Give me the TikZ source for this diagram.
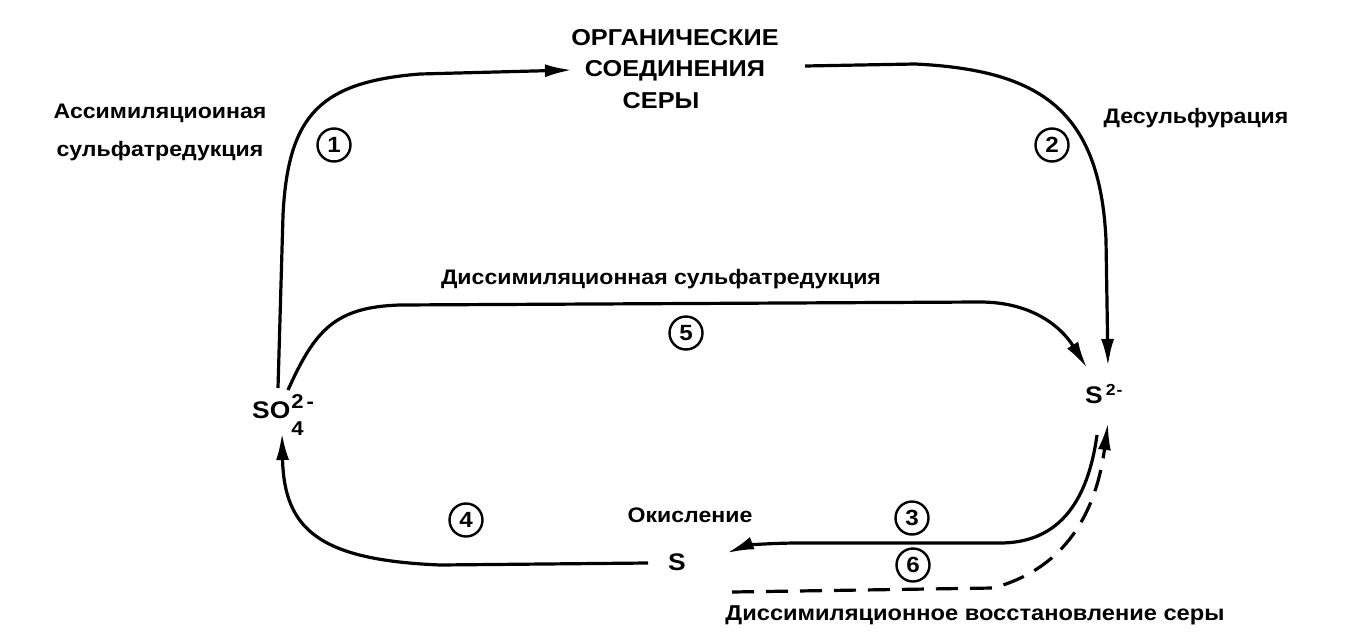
\documentclass[tikz,border=0pt]{standalone}
\usepackage{fontspec}
\setmainfont{Liberation Sans}[FakeStretch=1.1]
\usetikzlibrary{arrows.meta,calc}
\begin{document}
\begin{tikzpicture}[x={(1pt,0pt)},y={(0pt,-1pt)},
  lbl/.style={font=\fontsize{21}{24}\selectfont\bfseries, inner sep=0pt},
  chem/.style={font=\fontsize{24}{26}\selectfont\bfseries, inner sep=0pt},
  num/.style={circle, draw, line width=2.4pt, minimum size=33pt, inner sep=0pt, font=\fontsize{22}{22}\selectfont\bfseries},
  flow/.style={line width=3.2pt, -{Latex[length=27pt,width=13pt]}},
  dflow/.style={flow, dash pattern=on 22pt off 12pt}]
\fill[white] (0,0) rectangle (1360,632);
\useasboundingbox (0,0) rectangle (1360,632);

% chemical species
\node[chem, anchor=base west] (so4) at (252,418) {SO\kern1pt\rlap{\raisebox{10pt}{\fontsize{20}{20}\selectfont 2\kern3pt-}}\raisebox{-17pt}{\fontsize{20}{20}\selectfont 4}};
\node[chem, anchor=base west] (s2) at (1085,403) {S\kern3pt\raisebox{8pt}{\fontsize{16}{16}\selectfont 2\kern1pt-}};
\node[chem, anchor=base west] (s) at (668,570) {S};
\node[lbl, align=center, font=\fontsize{23}{31.5}\selectfont\bfseries] (org) at (675,69) {ОРГАНИЧЕСКИЕ\\СОЕДИНЕНИЯ\\СЕРЫ\hspace*{28pt}};

% labels
\node[lbl, align=center, font=\fontsize{21}{38}\selectfont\bfseries] (assim) at (160,132) {Ассимиляциоиная\\сульфатредукция};
\node[lbl] (desulf) at (1196,118) {Десульфурация};
\node[lbl] (dsr) at (661,279) {Диссимиляционная сульфатредукция};
\node[lbl] (oxid) at (690,515) {Окисление};
\node[lbl, font=\fontsize{21.5}{24}\selectfont\bfseries] (dsrs) at (975,615) {Диссимиляционное восстановление серы};

% numbers
\node[num] (n1) at (334,145) {1};
\node[num] (n2) at (1052,145) {2};
\node[num] (n5) at (686,333) {5};
\node[num] (n3) at (912,518) {3};
\node[num] (n4) at (466,520) {4};
\node[num] (n6) at (913,565) {6};

% connectors
\draw[flow] ($(so4.base west)+(26,-30)$) -- (283,215) .. controls (288,115) and (320,82) .. (420,74) -- ($(org.center)+(-103,1)$);
\draw[flow] ($(org.center)+(130,-3)$) -- (915,64) .. controls (1040,70) and (1100,110) .. (1106,240) -- ($(s2.base west)+(23,-37)$);
\draw[flow] ($(so4.base west)+(36,-28)$) .. controls (315,330) and (335,307) .. (400,305) -- (980,302) .. controls (1030,302) and (1060,325) .. ($(s2.base west)+(2,-35)$);
\draw[flow] ($(s.base west)+(-20,-7)$) -- (440,565) .. controls (320,560) and (284,530) .. ($(so4.base west)+(30,15)$);
\draw[flow] ($(s2.base west)+(12,32)$) .. controls (1088,500) and (1060,543) .. (1000,543) -- (800,543) .. controls (765,543) and (745,546) .. ($(s.base west)+(59,-17)$);
\draw[dflow] ($(s.base west)+(64,22)$) -- (993,588) .. controls (1060,570) and (1095,520) .. ($(s2.base west)+(23,20)$);
\end{tikzpicture}
\end{document}
